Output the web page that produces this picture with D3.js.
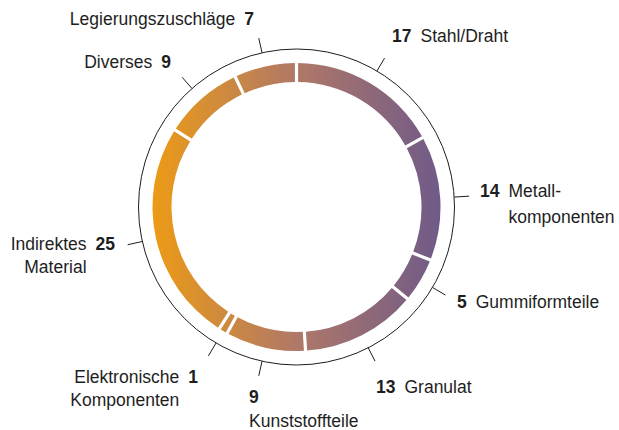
<!DOCTYPE html>
<html>
<head>
<meta charset="utf-8">
<script src="https://cdn.jsdelivr.net/npm/d3@7"></script>
<style>
  body { margin: 0; background: #fff; }
  text { font-family: "Liberation Sans", Arial, sans-serif; font-size: 17.5px; fill: #1e1e1e; }
</style>
</head>
<body>
<div id="chart"></div>
<script>
// Share of purchasing volume (percent), clockwise from 12 o'clock
var categories = ["Stahl/Draht", "Metallkomponenten", "Gummiformteile", "Granulat", "Kunststoffteile",
    "Elektronische Komponenten", "Indirektes Material", "Diverses", "Legierungszuschläge"];
var values = [17, 14, 5, 13, 9, 1, 25, 9, 7];
// label lines as printed in the chart
var labelLines = [["Stahl/Draht"], ["Metall-", "komponenten"], ["Gummiformteile"], ["Granulat"], ["Kunststoffteile"],
    ["Elektronische", "Komponenten"], ["Indirektes", "Material"], ["Diverses"], ["Legierungszuschläge"]];

var width = 619, height = 430;
var cx = 296.5, cy = 207;
var rOuter = 144, rInner = 125, rRing = 158, tickLen = 15;

// label placement: side, x, baseline y, layout of the second line
var labelLayout = [
    { side: "right", x: 392, y: 42 },
    { side: "right", x: 480, y: 197, wrap: "name" },
    { side: "right", x: 457, y: 308 },
    { side: "right", x: 376, y: 393 },
    { side: "right", x: 249, y: 403, wrap: "below" },
    { side: "left", x: 198, y: 383, wrap: "name" },
    { side: "left", x: 115, y: 250, wrap: "name" },
    { side: "left", x: 171, y: 68 },
    { side: "left", x: 254, y: 25 }
];

var svg = d3.select("#chart").append("svg")
    .attr("width", width)
    .attr("height", height);

// horizontal gradient across the ring, orange (left) to purple (right)
var grad = svg.append("defs").append("linearGradient")
    .attr("id", "ringGrad")
    .attr("gradientUnits", "userSpaceOnUse")
    .attr("x1", -rOuter).attr("y1", 0)
    .attr("x2", rOuter).attr("y2", 0);
grad.append("stop").attr("offset", "0%").attr("stop-color", "#ec9b15");
grad.append("stop").attr("offset", "50%").attr("stop-color", "#b07868");
grad.append("stop").attr("offset", "100%").attr("stop-color", "#6f5a88");

var data = categories.map(function (c, i) { return { name: c, value: values[i] }; });

var pie = d3.pie()
    .value(function (d) { return d.value; })
    .sort(null);

var arcs = pie(data);

var arc = d3.arc()
    .innerRadius(rInner)
    .outerRadius(rOuter)
    .padAngle(3.2 / 134)
    .padRadius(134);

var g = svg.append("g")
    .attr("transform", "translate(" + cx + "," + cy + ")");

// donut segments
g.selectAll("path")
    .data(arcs)
    .enter().append("path")
    .attr("d", arc)
    .attr("fill", "url(#ringGrad)");

// outer thin circle
g.append("circle")
    .attr("r", rRing)
    .attr("fill", "none")
    .attr("stroke", "#1e1e1e")
    .attr("stroke-width", 1);

// ticks at segment midpoints
function mid(d) { return (d.startAngle + d.endAngle) / 2; }
g.selectAll("line.tick")
    .data(arcs)
    .enter().append("line")
    .attr("class", "tick")
    .attr("x1", function (d) { return Math.sin(mid(d)) * rRing; })
    .attr("y1", function (d) { return -Math.cos(mid(d)) * rRing; })
    .attr("x2", function (d) { return Math.sin(mid(d)) * (rRing + tickLen); })
    .attr("y2", function (d) { return -Math.cos(mid(d)) * (rRing + tickLen); })
    .attr("stroke", "#1e1e1e")
    .attr("stroke-width", 1);

// labels
var gap = 9;
var lineH = 24;
data.forEach(function (d, i) {
    var lay = labelLayout[i];
    var lines = labelLines[i];
    var t = svg.append("text").attr("y", lay.y);
    if (lay.side === "right") {
        t.attr("x", lay.x).attr("text-anchor", "start");
        var num = t.append("tspan").attr("font-weight", "bold").text(d.value);
        if (lay.wrap === "below") {
            svg.append("text").attr("x", lay.x).attr("y", lay.y + lineH).text(lines[0]);
            return;
        }
        t.append("tspan").attr("dx", gap).text(lines[0]);
        if (lines.length > 1) {
            var nw = num.node().getComputedTextLength();
            svg.append("text").attr("x", lay.x + nw + gap).attr("y", lay.y + 26).text(lines[1]);
        }
    } else {
        t.attr("x", lay.x).attr("text-anchor", "end");
        t.append("tspan").text(lines[0]);
        var numL = t.append("tspan").attr("dx", gap).attr("font-weight", "bold").text(d.value);
        if (lines.length > 1) {
            var nwl = numL.node().getComputedTextLength();
            svg.append("text").attr("x", lay.x - nwl - gap).attr("y", lay.y + 23)
                .attr("text-anchor", "end").text(lines[1]);
        }
    }
});
</script>
</body>
</html>
